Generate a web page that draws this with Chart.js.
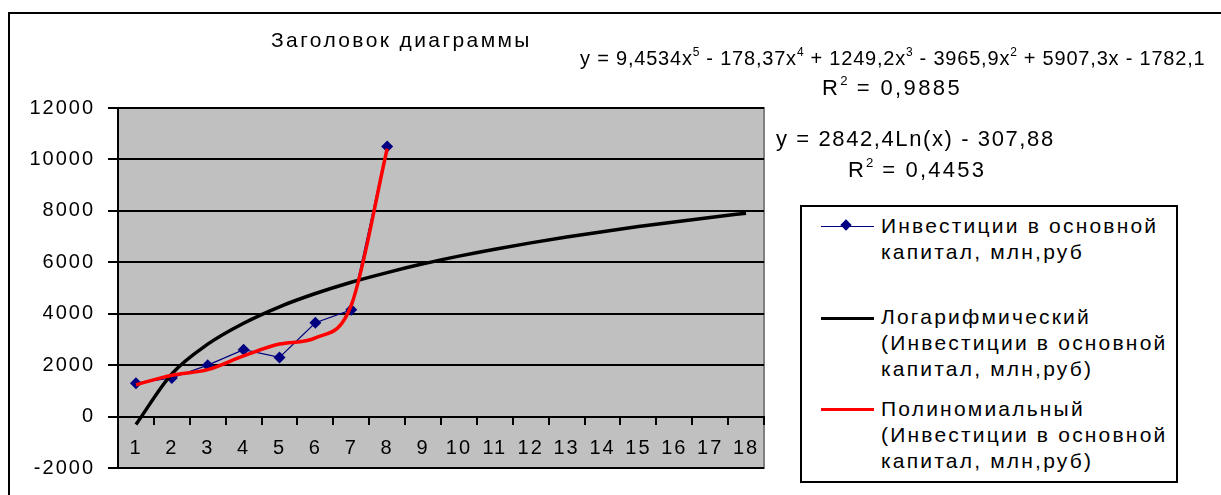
<!DOCTYPE html>
<html>
<head>
<meta charset="utf-8">
<script src="https://cdn.jsdelivr.net/npm/chart.js@4/dist/chart.umd.min.js"></script>
<style>
  html,body{margin:0;padding:0;background:#fff;}
  body{width:1221px;height:495px;position:relative;overflow:hidden;font-family:"Liberation Sans",Arial,sans-serif;color:#000;}
  #frame{position:absolute;left:8px;top:12px;width:1230px;height:500px;border-left:2px solid #000;border-top:2px solid #000;}
  #wrap{position:absolute;left:0;top:0;width:1221px;height:495px;}
  .txt{position:absolute;white-space:nowrap;}
  #title{left:271px;top:28px;font-size:21px;letter-spacing:2.4px;}
  #eq1{left:580px;top:47px;font-size:20px;letter-spacing:0.8px;}
  #r1{left:822px;top:75px;font-size:22px;letter-spacing:2.4px;}
  #eq2{left:776px;top:126px;font-size:22px;letter-spacing:1.6px;}
  #r2{left:848px;top:157px;font-size:22px;letter-spacing:2.2px;}
  sup{font-size:60%;vertical-align:0.75em;line-height:0;letter-spacing:0.5px;}
  #legend{position:absolute;left:800px;top:205px;width:374px;height:274px;border:2px solid #000;background:#fff;}
  .li{position:absolute;left:79px;font-size:21px;line-height:26px;letter-spacing:2.2px;white-space:nowrap;}
  .sw{position:absolute;left:19px;width:53px;}
</style>
</head>
<body>
<div id="frame"></div>
<div id="wrap"><canvas id="c" width="1221" height="495"></canvas></div>
<div class="txt" id="title">Заголовок диаграммы</div>
<div class="txt" id="eq1">y = 9,4534x<sup>5</sup> - 178,37x<sup>4</sup> + 1249,2x<sup>3</sup> - 3965,9x<sup>2</sup> + 5907,3x - 1782,1</div>
<div class="txt" id="r1">R<sup>2</sup> = 0,9885</div>
<div class="txt" id="eq2">y = 2842,4Ln(x) - 307,88</div>
<div class="txt" id="r2">R<sup>2</sup> = 0,4453</div>
<div id="legend">
  <div class="sw" style="top:19px;height:1px;background:#000080;"></div>
  <div style="position:absolute;left:40px;top:14px;width:8px;height:8px;background:#000080;transform:rotate(45deg);"></div>
  <div class="li" style="top:6px;">Инвестиции в основной<br>капитал, млн,руб</div>
  <div class="sw" style="top:110px;height:3px;background:#000;"></div>
  <div class="li" style="top:97px;">Логарифмический<br>(Инвестиции в основной<br>капитал, млн,руб)</div>
  <div class="sw" style="top:201px;height:3px;background:#ff0000;"></div>
  <div class="li" style="top:189px;">Полиномиальный<br>(Инвестиции в основной<br>капитал, млн,руб)</div>
</div>
<script>
const labels = ['1','2','3','4','5','6','7','8','9','10','11','12','13','14','15','16','17','18'];
const investments = [1300, 1500, 2000, 2600, 2300, 3650, 4150, 10500];
const logTrend = [-310, 1660, 2815, 3630, 4270, 4785, 5225, 5600, 5940, 6240, 6510, 6755, 6980, 7190, 7390, 7570, 7745, 7910];
const polyTrend = [1240, 1610, 1825, 2360, 2820, 3060, 4330, 10415];
const yTicks = [-2000, 0, 2000, 4000, 6000, 8000, 10000, 12000];

const plotBg = {
  id:'plotBg',
  beforeUpdate(chart){ chart.ctx.letterSpacing = '2px'; },
  beforeDraw(chart){
    const {ctx, chartArea:a} = chart;
    ctx.letterSpacing = '2px';
    ctx.save();
    ctx.fillStyle = '#c0c0c0';
    ctx.fillRect(a.left, a.top, a.right-a.left, a.bottom-a.top);
    ctx.strokeStyle = '#808080';
    ctx.lineWidth = 2;
    ctx.strokeRect(a.left, a.top, a.right-a.left, a.bottom-a.top);
    ctx.restore();
  }
};

new Chart('c', {
  type:'line',
  data:{
    labels:labels,
    datasets:[
      {label:'Полиномиальный', data:polyTrend, borderColor:'#ff0000', borderWidth:3.5, pointRadius:0, fill:false, cubicInterpolationMode:'monotone', order:0},
      {label:'Логарифмический', data:logTrend, borderColor:'#000000', borderWidth:3.5, pointRadius:0, fill:false, cubicInterpolationMode:'monotone', order:1},
      {label:'Инвестиции в основной капитал, млн,руб', data:investments, borderColor:'#000080', backgroundColor:'#000080', borderWidth:1.2, pointStyle:'rectRot', pointRadius:6, pointBorderWidth:0, tension:0, fill:false, order:2}
    ]
  },
  plugins:[plotBg],
  options:{
    responsive:false, animation:false, devicePixelRatio:1,
    layout:{padding:{left:8, top:108, right:457, bottom:27}},
    plugins:{legend:{display:false}, tooltip:{enabled:false}, title:{display:false}},
    scales:{
      x:{
        position:{y:0}, offset:true,
        grid:{display:true, drawOnChartArea:false, drawTicks:true, tickLength:7, offset:true, color:'#000', lineWidth:2},
        border:{display:true, color:'#000', width:2},
        ticks:{font:{family:'Liberation Sans', size:20}, color:'#000', padding:13, maxRotation:0, autoSkip:false}
      },
      y:{
        min:-2000, max:12000,
        afterBuildTicks(s){ s.ticks = yTicks.map(v=>({value:v})); },
        afterFit(s){ s.width = 110; },
        grid:{color:'#000', lineWidth:2, drawTicks:true, tickLength:10},
        border:{display:true, color:'#000', width:2},
        ticks:{font:{family:'Liberation Sans', size:20}, color:'#000', padding:13, callback:v=>String(v)}
      }
    }
  }
});
</script>
</body>
</html>
